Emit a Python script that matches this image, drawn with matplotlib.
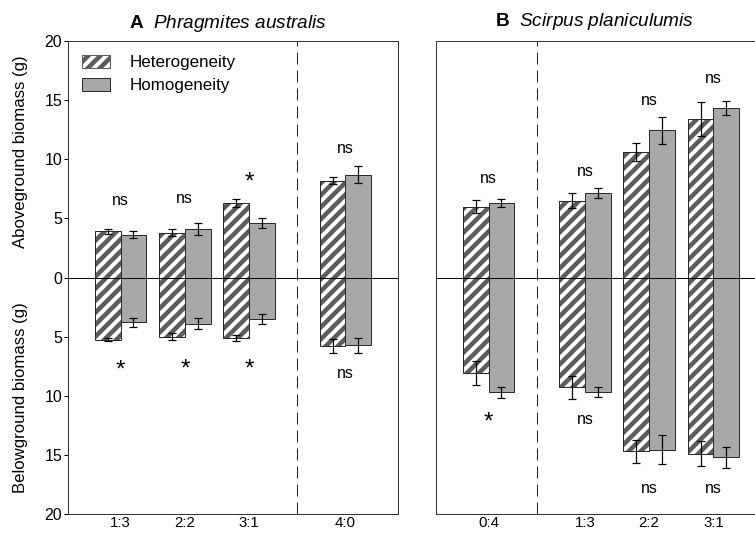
import matplotlib
matplotlib.use("Agg")
import numpy as np
import matplotlib.pyplot as plt
from matplotlib.patches import Patch

plt.rcParams['font.family'] = ['Liberation Sans', 'DejaVu Sans']
plt.rcParams['mathtext.fontset'] = 'custom'
plt.rcParams['mathtext.rm'] = 'Liberation Sans'
plt.rcParams['mathtext.bf'] = 'Liberation Sans:bold'
plt.rcParams['mathtext.it'] = 'Liberation Sans:italic'
plt.rcParams['hatch.linewidth'] = 4.5

# ---- data ----
a_labels = ['1:3', '2:2', '3:1', '4:0']
a_pos = [1, 2, 3, 4.5]
a_het_up = [3.9, 3.8, 6.3, 8.2]
a_het_up_err = [0.2, 0.3, 0.35, 0.3]
a_hom_up = [3.6, 4.1, 4.6, 8.7]
a_hom_up_err = [0.3, 0.5, 0.4, 0.7]
a_het_dn = [5.25, 5.0, 5.1, 5.8]
a_het_dn_err = [0.15, 0.3, 0.25, 0.6]
a_hom_dn = [3.8, 3.9, 3.5, 5.75]
a_hom_dn_err = [0.4, 0.45, 0.45, 0.6]
a_sig_up = ['ns', 'ns', '*', 'ns']
a_sig_up_y = [6.5, 6.7, 8.0, 10.9]
a_sig_dn = ['*', '*', '*', 'ns']
a_sig_dn_y = [-7.9, -7.8, -7.8, -8.1]

b_labels = ['0:4', '1:3', '2:2', '3:1']
b_pos = [1, 2.5, 3.5, 4.5]
b_het_up = [6.0, 6.5, 10.6, 13.4]
b_het_up_err = [0.55, 0.65, 0.75, 1.4]
b_hom_up = [6.3, 7.15, 12.45, 14.3]
b_hom_up_err = [0.3, 0.4, 1.15, 0.6]
b_het_dn = [8.1, 9.3, 14.7, 14.9]
b_het_dn_err = [1.0, 1.0, 1.0, 1.05]
b_hom_dn = [9.7, 9.7, 14.55, 15.2]
b_hom_dn_err = [0.45, 0.4, 1.25, 0.9]
b_sig_up = ['ns', 'ns', 'ns', 'ns']
b_sig_up_y = [8.4, 9.0, 15.0, 16.8]
b_sig_dn = ['*', 'ns', 'ns', 'ns']
b_sig_dn_y = [-12.3, -12.0, -17.85, -17.85]

DARK = '#5c5c5c'
GREY = '#a8a8a8'
EDGE = '#2a2a2a'
W = 0.4

fig = plt.figure(figsize=(755 / 72, 535 / 72), dpi=72)
axA = fig.add_axes([68 / 755, 21 / 535, 330 / 755, 473 / 535])
axB = fig.add_axes([436 / 755, 21 / 535, 330 / 755, 473 / 535])


def draw_panel(ax, pos, het_up, het_up_err, hom_up, hom_up_err,
               het_dn, het_dn_err, hom_dn, hom_dn_err,
               sig_up, sig_up_y, sig_dn, sig_dn_y, labels, split):
    pos = np.array(pos, dtype=float)
    xh = pos - W / 2
    xg = pos + W / 2
    het_dn_neg = -np.array(het_dn)
    hom_dn_neg = -np.array(hom_dn)
    ebk = dict(fmt='none', ecolor='black', elinewidth=1.2, capsize=4, capthick=1.2, zorder=5)

    for top in [het_up, het_dn_neg]:
        ax.bar(xh, top, W, facecolor='white', edgecolor=DARK, hatch='//', linewidth=0, zorder=2)
        ax.bar(xh, top, W, fill=False, edgecolor=EDGE, linewidth=1, zorder=3)
    for top in [hom_up, hom_dn_neg]:
        ax.bar(xg, top, W, facecolor=GREY, edgecolor=EDGE, linewidth=1, zorder=2)

    ax.errorbar(xh, het_up, yerr=het_up_err, **ebk)
    ax.errorbar(xg, hom_up, yerr=hom_up_err, **ebk)
    ax.errorbar(xh, het_dn_neg, yerr=het_dn_err, **ebk)
    ax.errorbar(xg, hom_dn_neg, yerr=hom_dn_err, **ebk)

    for x, s, y in zip(pos, sig_up, sig_up_y):
        ax.text(x, y, s, ha='center', va='center', fontsize=24 if s == '*' else 16)
    for x, s, y in zip(pos, sig_dn, sig_dn_y):
        ax.text(x, y, s, ha='center', va='center', fontsize=24 if s == '*' else 16)

    ax.axhline(0, color='black', linewidth=1, zorder=4)
    ax.axvline(split, color='#222222', linewidth=1, dashes=(12, 6), zorder=1)

    ax.set_xlim(0.18, 5.32)
    ax.set_ylim(-20, 20)
    ax.set_xticks(pos)
    ax.set_xticklabels(labels)
    ax.tick_params(axis='x', length=0, pad=2, labelsize=15)
    for sp in ax.spines.values():
        sp.set_linewidth(1)
        sp.set_color('#333333')


draw_panel(axA, a_pos, a_het_up, a_het_up_err, a_hom_up, a_hom_up_err,
           a_het_dn, a_het_dn_err, a_hom_dn, a_hom_dn_err,
           a_sig_up, a_sig_up_y, a_sig_dn, a_sig_dn_y, a_labels, 3.75)
draw_panel(axB, b_pos, b_het_up, b_het_up_err, b_hom_up, b_hom_up_err,
           b_het_dn, b_het_dn_err, b_hom_dn, b_hom_dn_err,
           b_sig_up, b_sig_up_y, b_sig_dn, b_sig_dn_y, b_labels, 1.75)

yt = np.arange(-20, 21, 5)
axA.set_yticks(yt)
axA.set_yticklabels([str(abs(v)) for v in yt])
axA.tick_params(axis='y', direction='out', length=4, width=1, labelsize=16, pad=2)
axB.tick_params(axis='y', left=False, labelleft=False)

axA.text(0.485, 1.028, r'$\bf{A}$  $\it{Phragmites\ australis}$', transform=axA.transAxes,
         ha='center', va='baseline', fontsize=19)
axB.text(0.48, 1.032, r'$\bf{B}$  $\it{Scirpus\ planiculumis}$', transform=axB.transAxes,
         ha='center', va='baseline', fontsize=19)

fig.text(21 / 755, 1 - 152 / 535, 'Aboveground biomass (g)', rotation=90,
         ha='center', va='center', fontsize=16.7)
fig.text(21 / 755, 1 - 398 / 535, 'Belowground biomass (g)', rotation=90,
         ha='center', va='center', fontsize=16.7)

handles = [Patch(facecolor='white', edgecolor=DARK, hatch='//', linewidth=1, label='Heterogeneity'),
           Patch(facecolor=GREY, edgecolor=EDGE, linewidth=1, label='Homogeneity')]
axA.legend(handles=handles, loc='upper left', bbox_to_anchor=(0.042, 0.971), frameon=False,
           fontsize=17, handlelength=1.65, handleheight=0.82, handletextpad=1.15,
           labelspacing=0.45, borderpad=0, borderaxespad=0)

fig.savefig('out.png', dpi=72)
